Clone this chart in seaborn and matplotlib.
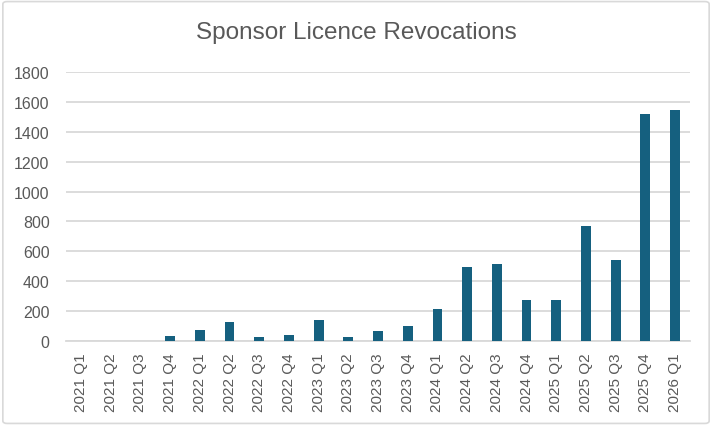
import pandas as pd
import seaborn as sns
import matplotlib.pyplot as plt
from matplotlib.patches import FancyBboxPatch

# quarterly sponsor licence revocations
quarters = ['2021 Q1', '2021 Q2', '2021 Q3', '2021 Q4',
            '2022 Q1', '2022 Q2', '2022 Q3', '2022 Q4',
            '2023 Q1', '2023 Q2', '2023 Q3', '2023 Q4',
            '2024 Q1', '2024 Q2', '2024 Q3', '2024 Q4',
            '2025 Q1', '2025 Q2', '2025 Q3', '2025 Q4',
            '2026 Q1']
revocations = [0, 0, 0, 32,
               71, 128, 25, 39,
               142, 25, 64, 100,
               212, 494, 514, 272,
               272, 768, 539, 1520,
               1544]
y_ticks = [0, 200, 400, 600, 800, 1000, 1200, 1400, 1600, 1800]

BAR_COLOR = '#15607F'
TEXT_COLOR = '#595959'
GRID_COLOR = '#D9D9D9'

sns.set_theme(style='white')
plt.rcParams['font.family'] = ['Liberation Sans', 'DejaVu Sans']

df = pd.DataFrame({'quarter': quarters, 'count': revocations})

fig = plt.figure(figsize=(7.12, 4.27), dpi=100)
ax = fig.add_axes([0.093, 0.199, 0.876, 0.630])

sns.barplot(data=df, x='quarter', y='count', color=BAR_COLOR,
            width=0.33, saturation=1, linewidth=0, ax=ax, zorder=3)

ax.set_ylim(0, 1800)
ax.set_yticks(y_ticks)
ax.set_xlim(-0.5, len(quarters) - 0.5)
ax.yaxis.grid(True, color=GRID_COLOR, linewidth=1.3, zorder=0)
ax.set_axisbelow(True)
for side in ['top', 'right', 'left']:
    ax.spines[side].set_visible(False)
ax.spines['bottom'].set_color(GRID_COLOR)
ax.spines['bottom'].set_linewidth(1.3)

ax.tick_params(axis='x', labelrotation=90, labelsize=11, colors=TEXT_COLOR,
               length=0, pad=8)
ax.tick_params(axis='y', labelsize=11.5, colors=TEXT_COLOR, length=0, pad=12)
ax.set_xlabel('')
ax.set_ylabel('')

fig.text(0.5, 0.922, 'Sponsor Licence Revocations', ha='center', va='center',
         fontsize=17.5, color=TEXT_COLOR)

# chart border
border = FancyBboxPatch((0.004, 0.006), 0.992, 0.988, transform=fig.transFigure,
                        boxstyle='round,pad=0,rounding_size=0.006',
                        facecolor='none', edgecolor=GRID_COLOR, linewidth=1.2)
fig.patches.append(border)

fig.savefig('out.png', dpi=100)
